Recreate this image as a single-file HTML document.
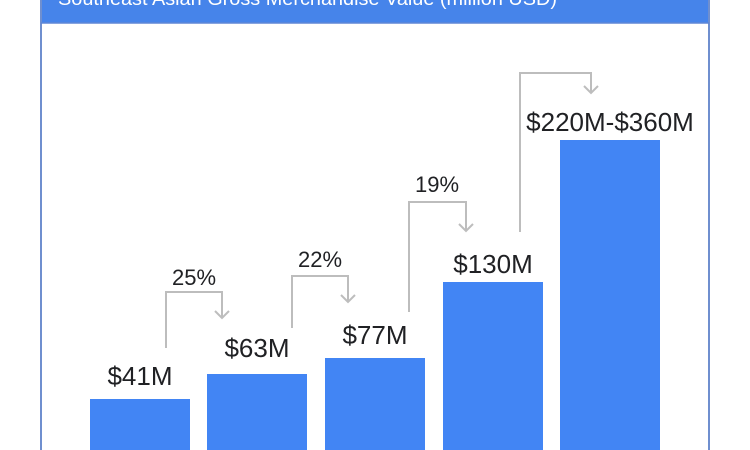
<!DOCTYPE html>
<html>
<head>
<meta charset="utf-8">
<style>
html,body{margin:0;padding:0;background:#fff;width:750px;height:450px;overflow:hidden;}
svg{display:block;}
text{font-family:"Liberation Sans",Arial,sans-serif;}
</style>
</head>
<body>
<svg width="750" height="450" viewBox="0 0 750 450" xmlns="http://www.w3.org/2000/svg">
  <rect x="0" y="0" width="750" height="450" fill="#ffffff"/>
  <!-- frame -->
  <rect x="41" y="0" width="668" height="23" fill="#4684ea"/>
  <line x1="41" y1="0" x2="41" y2="450" stroke="#6f8fcf" stroke-width="2"/>
  <line x1="709" y1="0" x2="709" y2="450" stroke="#6f8fcf" stroke-width="2"/>
  <line x1="41" y1="23" x2="709" y2="23" stroke="#5f86d6" stroke-width="1.5"/>
  <text x="58" y="5" font-size="19" fill="#ffffff" textLength="499" lengthAdjust="spacingAndGlyphs">Southeast Asian Gross Merchandise Value (million USD)</text>

  <!-- bars -->
  <rect x="90" y="399" width="100" height="60" fill="#4285f4"/>
  <rect x="207" y="374" width="100" height="85" fill="#4285f4"/>
  <rect x="325" y="358" width="100" height="100" fill="#4285f4"/>
  <rect x="443" y="282" width="100" height="176" fill="#4285f4"/>
  <rect x="560" y="140" width="100" height="318" fill="#4285f4"/>

  <!-- value labels -->
  <g font-size="26" fill="#202124" text-anchor="middle">
    <text x="140" y="385">$41M</text>
    <text x="257" y="357">$63M</text>
    <text x="375" y="344">$77M</text>
    <text x="493" y="273">$130M</text>
    <text x="610" y="131">$220M-$360M</text>
  </g>

  <!-- growth brackets -->
  <g fill="none" stroke="#bdbdbd" stroke-width="2">
    <polyline points="166,348 166,292 222,292 222,318"/>
    <polyline points="215,311 222,318 229,311"/>
    <polyline points="292,328 292,276 348,276 348,302"/>
    <polyline points="341,295 348,302 355,295"/>
    <polyline points="409,312 409,202 466,202 466,231"/>
    <polyline points="459,224 466,231 473,224"/>
    <polyline points="520,232 520,73 591,73 591,93"/>
    <polyline points="584,86 591,93 598,86"/>
  </g>

  <g font-size="22" fill="#202124" text-anchor="middle">
    <text x="194" y="285">25%</text>
    <text x="320" y="267">22%</text>
    <text x="437" y="192">19%</text>
  </g>
</svg>
</body>
</html>
